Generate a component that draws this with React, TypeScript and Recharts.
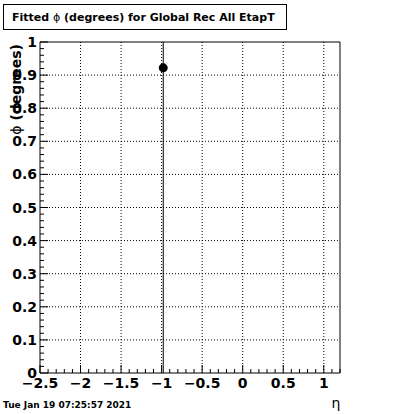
import { ScatterChart, Scatter, XAxis, YAxis, ReferenceLine, ReferenceArea, ErrorBar } from "recharts"

const points = [{ eta: -0.98, phi: 0.922, err: 1.2 }]

const xMajor = [-2.5, -2, -1.5, -1, -0.5, 0, 0.5, 1]
const yMajor = [0, 0.1, 0.2, 0.3, 0.4, 0.5, 0.6, 0.7, 0.8, 0.9, 1]
const xGrid = [-2, -1.5, -1, -0.5, 0, 0.5, 1]
const yGrid = [0.1, 0.2, 0.3, 0.4, 0.5, 0.6, 0.7, 0.8, 0.9]

const steps = (from: number, to: number, step: number) => {
  const out: number[] = []
  const n = Math.round((to - from) / step)
  for (let i = 0; i <= n; i++) out.push(Math.round((from + i * step) * 1000) / 1000)
  return out
}

const xTicks = steps(-2.5, 1.2, 0.1)
const yTicks = steps(0, 1, 0.02)

const FONT = "DejaVu Sans, sans-serif"

const isMajor = (v: number, list: number[]) => list.some((m) => Math.abs(m - v) < 1e-6)
const fmt = (v: number) => (v < 0 ? "\u2212" + String(Math.abs(v)) : String(v))

const XTick = (props: any) => {
  const { x, y, payload } = props
  const major = isMajor(payload.value, xMajor)
  return (
    <g>
      <line x1={x} x2={x} y1={y} y2={y - (major ? 8 : 4)} stroke="#000" />
      {major && (
        <text x={x} y={y + 15} textAnchor="middle" fontFamily={FONT} fontWeight="bold" fontSize={14} fill="#000">
          {fmt(payload.value)}
        </text>
      )}
    </g>
  )
}

const YTick = (props: any) => {
  const { x, y, payload } = props
  const major = isMajor(payload.value, yMajor)
  return (
    <g>
      <line x1={x} x2={x + (major ? 8 : 4)} y1={y} y2={y} stroke="#000" />
      {major && (
        <text x={x - 3} y={y + 5} textAnchor="end" fontFamily={FONT} fontWeight="bold" fontSize={14} fill="#000">
          {fmt(payload.value)}
        </text>
      )}
    </g>
  )
}

export default function App() {
  return (
    <div style={{ position: "absolute", left: 0, top: 0, width: 400, height: 414, background: "#fff" }}>
      <style>{`.recharts-scatter, .recharts-errorBar, .recharts-errorBars { clip-path: url(#plotClip); }`}</style>
      <svg width={0} height={0} style={{ position: "absolute" }}>
        <defs>
          <clipPath id="plotClip" clipPathUnits="userSpaceOnUse">
            <rect x={40} y={42} width={300} height={331} />
          </clipPath>
        </defs>
      </svg>
      <ScatterChart width={400} height={414} margin={{ top: 42, right: 60, bottom: 0, left: 0 }}>
        <XAxis
          type="number"
          dataKey="eta"
          domain={[-2.5, 1.2]}
          ticks={xTicks}
          interval={0}
          height={41}
          axisLine={false}
          tickLine={false}
          tickSize={0}
          tickMargin={0}
          tick={<XTick />}
          allowDataOverflow
        />
        <YAxis
          type="number"
          dataKey="phi"
          domain={[0, 1]}
          ticks={yTicks}
          interval={0}
          width={40}
          axisLine={false}
          tickLine={false}
          tickSize={0}
          tickMargin={0}
          tick={<YTick />}
          allowDataOverflow
        />
        {xGrid.map((v) => (
          <ReferenceLine key={"x" + v} x={v} stroke="#000" strokeDasharray="1 2" />
        ))}
        {yGrid.map((v) => (
          <ReferenceLine key={"y" + v} y={v} stroke="#000" strokeDasharray="1 2" />
        ))}
        <ReferenceArea x1={-2.5} x2={1.2} y1={0} y2={1} fill="none" stroke="#000" strokeWidth={1} />
        <Scatter
          data={points}
          isAnimationActive={false}
          fill="#000"
          shape={(p: any) => <circle cx={p.cx} cy={p.cy} r={4.5} fill="#000" />}
        >
          <ErrorBar dataKey="err" direction="y" width={0} stroke="#000" strokeWidth={1} isAnimationActive={false} />
        </Scatter>
      </ScatterChart>
      <svg width={400} height={414} style={{ position: "absolute", left: 0, top: 0, pointerEvents: "none" }}>
        <rect x={3.5} y={4.5} width={283} height={25} fill="#fff" stroke="#000" />
        <text x={12} y={21} fontFamily={FONT} fontWeight="bold" fontSize={11} fill="#000">
          Fitted <tspan fontWeight="normal">{"\u03d5"}</tspan> (degrees) for Global Rec All EtapT
        </text>
        <text
          transform="translate(21,44) rotate(-90)"
          textAnchor="end"
          fontFamily={FONT}
          fontWeight="bold"
          fontSize={14}
          fill="#000"
        >
          <tspan fontWeight="normal">{"\u03d5"}</tspan> (degrees)
        </text>
        <text x={3} y={408} fontFamily={FONT} fontWeight="bold" fontSize={9} fill="#000">
          Tue Jan 19 07:25:57 2021
        </text>
        <text x={336} y={408} textAnchor="middle" fontFamily={FONT} fontSize={14} fill="#000">
          {"\u03b7"}
        </text>
      </svg>
    </div>
  )
}
